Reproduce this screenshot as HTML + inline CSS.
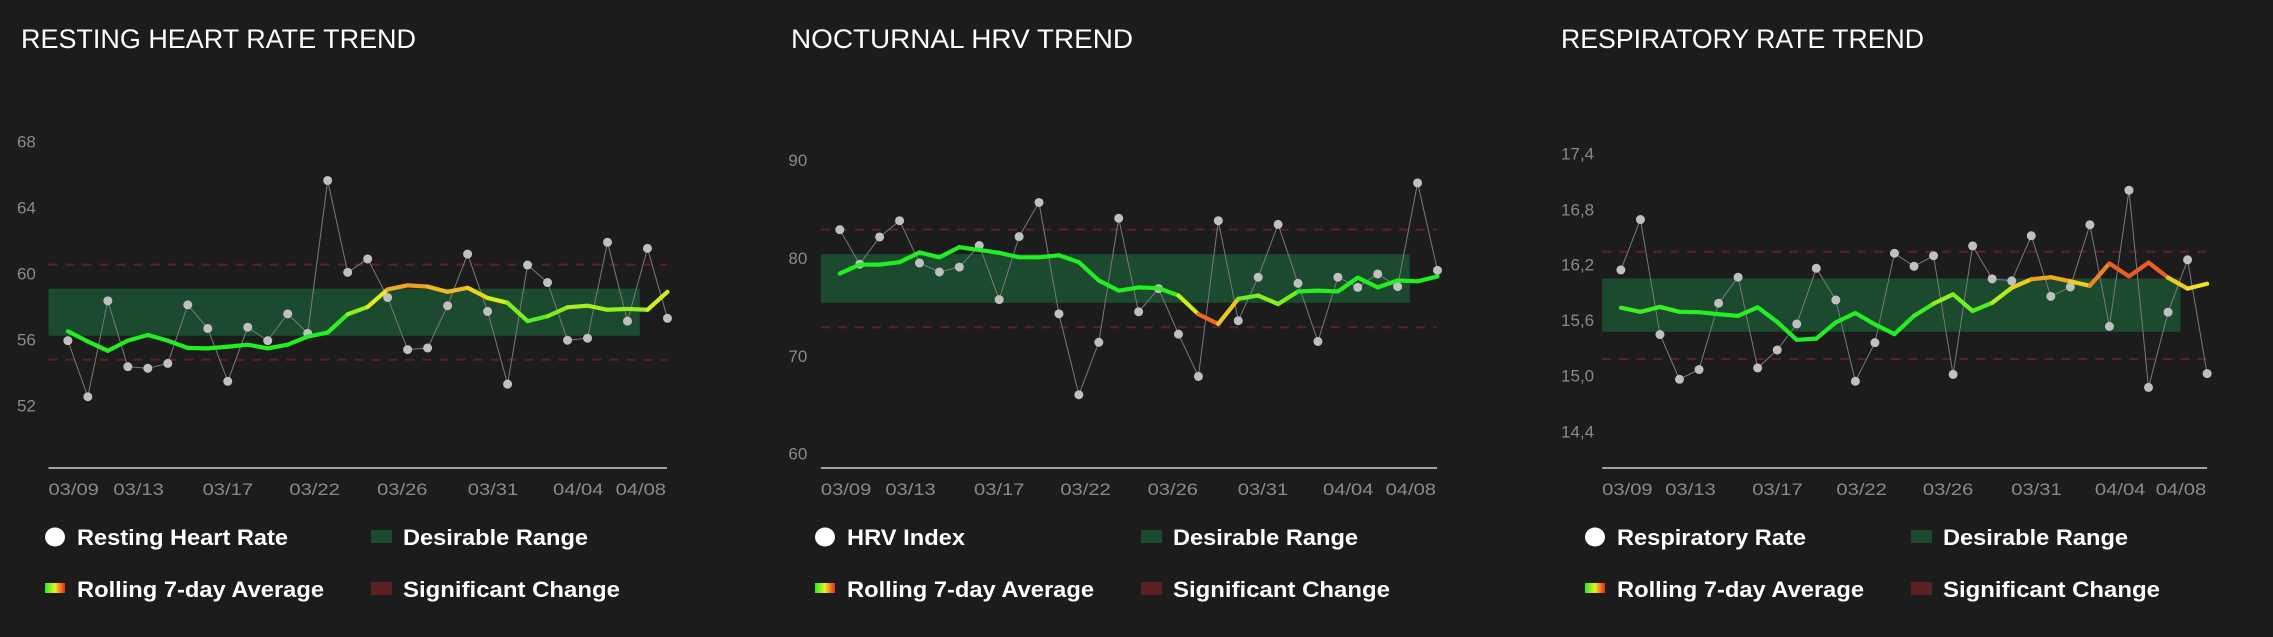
<!DOCTYPE html>
<html><head><meta charset="utf-8"><style>
html,body{margin:0;padding:0;background:#1c1c1c;}
svg{display:block}
</style></head><body>
<svg id="s" width="2273" height="637" xmlns="http://www.w3.org/2000/svg" font-family="Liberation Sans, sans-serif"></svg>
<script>
const S=document.getElementById('s');
let h='<rect width="2273" height="637" fill="#1c1c1c"/>';
const P=[
{ox:0,sx:2.063,title:'RESTING HEART RATE TREND',tw:395,
 ax:[100,1376],rng:[100,1320,710,826],dash:[651,885],
 px0:140,px1:1377,
 pts:[838,976,740,902,906,894,750,808,938,805,838,772,820,444,670,637,732,860,856,752,625,766,945,652,695,837,832,596,790,611,783],
 avg:[815,840,863,838,824,838,856,857,853,848,857,848,828,818,773,755,712,702,705,718,708,733,745,790,778,756,752,762,760,762,718],
 g:800,r:660,
 yl:[['68',348],['64',510],['60',673],['56',835],['52',997]],ylx:35,
 xl:[100,234,418,597,778,965,1141,1270],
 l1:'Resting Heart Rate',l1w:211},
{ox:770,sx:2.063,title:'NOCTURNAL HRV TREND',tw:342,
 ax:[105,1376],rng:[105,1320,625,745],dash:[565,805],
 px0:144,px1:1377,
 pts:[565,650,583,543,647,669,657,604,737,582,498,772,971,842,537,767,710,822,926,543,789,682,552,697,840,682,707,674,705,450,665],
 avg:[673,651,651,645,621,633,608,615,622,633,633,628,645,690,715,707,709,727,773,797,735,727,748,717,715,717,683,707,690,692,680],
 g:715,r:800,
 yl:[['90',394],['80',635],['70',876],['60',1116]],ylx:38,
 xl:[105,238,421,599,779,965,1141,1270],
 l1:'HRV Index',l1w:118},
{ox:1540,sx:2.139,title:'RESPIRATORY RATE TREND',tw:363,
 ax:[133,1427],rng:[133,1370,685,816],dash:[619,883],
 px0:173,px1:1427,
 pts:[664,540,823,933,909,746,682,905,861,797,660,738,938,843,623,655,629,921,605,686,691,580,729,706,553,803,468,953,768,639,919],
 avg:[757,767,755,767,768,773,777,756,792,836,833,793,770,798,822,777,747,724,765,745,708,687,682,692,703,648,680,646,683,710,698],
 g:770,r:645,
 yl:[['17,4',377],['16,8',515],['16,2',651],['15,6',787],['15,0',924],['14,4',1061]],ylx:45,
 xl:[133,268,454,634,819,1008,1187,1317],
 l1:'Respiratory Rate',l1w:189}
];
const sy=2.46;
function col(t){t=Math.max(0,Math.min(1,t));let r,g;if(t<.5){r=0x22+(0xee-0x22)*t*2;g=0xee;}else{r=0xee;g=0xee-(0xee-0x22)*(t-.5)*2;}return `rgb(${r|0},${g|0},34)`;}
const labs=['03/09','03/13','03/17','03/22','03/26','03/31','04/04','04/08'];
P.forEach((p,pi)=>{
 const X=x=>p.ox+x/p.sx, Y=y=>y/sy;
 h+=`<text x="${p.ox+21}" y="48" fill="#fff" font-size="27" textLength="${p.tw}" lengthAdjust="spacingAndGlyphs">${p.title}</text>`;
 p.yl.forEach(l=>{h+=`<text x="${X(p.ylx)}" y="${Y(l[1])+6}" fill="#8a8a8a" font-size="17">${l[0]}</text>`;});
 const r=p.rng;
 h+=`<rect x="${X(r[0])}" y="${Y(r[2])}" width="${(r[1]-r[0])/p.sx}" height="${(r[3]-r[2])/sy}" fill="#1b4a2e"/>`;
 p.dash.forEach(d=>{h+=`<line x1="${X(r[0])}" x2="${X(p.ax[1])}" y1="${Y(d)}" y2="${Y(d)}" stroke="#5c2222" stroke-width="2" stroke-dasharray="9 8"/>`;});
 h+=`<line x1="${X(p.ax[0])}" x2="${X(p.ax[1])}" y1="468" y2="468" stroke="#d0d0d0" stroke-width="1.5"/>`;
 p.xl.forEach((x,i)=>{h+=`<text x="${X(x)}" y="495" fill="#8a8a8a" font-size="17" textLength="${(pi==2?108:104)/p.sx}" lengthAdjust="spacingAndGlyphs">${labs[i]}</text>`;});
 const n=p.pts.length, dx=(p.px1-p.px0)/(n-1);
 let d='';p.pts.forEach((y,i)=>{d+=(i?'L':'M')+X(p.px0+i*dx).toFixed(1)+','+Y(y).toFixed(1);});
 h+=`<path d="${d}" fill="none" stroke="#7a7a7a" stroke-width="1"/>`;
 p.pts.forEach((y,i)=>{h+=`<circle cx="${X(p.px0+i*dx)}" cy="${Y(y)}" r="4.5" fill="#c0c0c0"/>`;});
 for(let i=0;i<n-1;i++){
  const ya=p.avg[i],yb=p.avg[i+1];
  const t=((p.g-(ya+yb)/2)/(p.g-p.r));
  h+=`<line x1="${X(p.px0+i*dx)}" y1="${Y(ya)}" x2="${X(p.px0+(i+1)*dx)}" y2="${Y(yb)}" stroke="${col(t)}" stroke-width="4.2" stroke-linecap="round"/>`;
 }
 const o=p.ox;
 h+=`<ellipse cx="${o+55}" cy="537" rx="10" ry="9.5" fill="#fff"/>`;
 h+=`<text x="${o+77}" y="545" fill="#fff" font-size="22" font-weight="bold" textLength="${p.l1w}" lengthAdjust="spacingAndGlyphs">${p.l1}</text>`;
 h+=`<rect x="${o+371}" y="530" width="21" height="13" fill="#1b4a2e"/>`;
 h+=`<text x="${o+403}" y="545" fill="#fff" font-size="22" font-weight="bold" textLength="185" lengthAdjust="spacingAndGlyphs">Desirable Range</text>`;
 h+=`<defs><linearGradient id="gr${pi}"><stop offset="0" stop-color="#22ee22"/><stop offset=".5" stop-color="#eeee22"/><stop offset="1" stop-color="#ee2222"/></linearGradient></defs>`;
 h+=`<rect x="${o+45}" y="583" width="20" height="10" fill="url(#gr${pi})"/>`;
 h+=`<text x="${o+77}" y="597" fill="#fff" font-size="22" font-weight="bold" textLength="247" lengthAdjust="spacingAndGlyphs">Rolling 7-day Average</text>`;
 h+=`<rect x="${o+371}" y="582" width="21" height="13" fill="#5c2222"/>`;
 h+=`<text x="${o+403}" y="597" fill="#fff" font-size="22" font-weight="bold" textLength="217" lengthAdjust="spacingAndGlyphs">Significant Change</text>`;
});
S.innerHTML=h;
</script>
</body></html>
